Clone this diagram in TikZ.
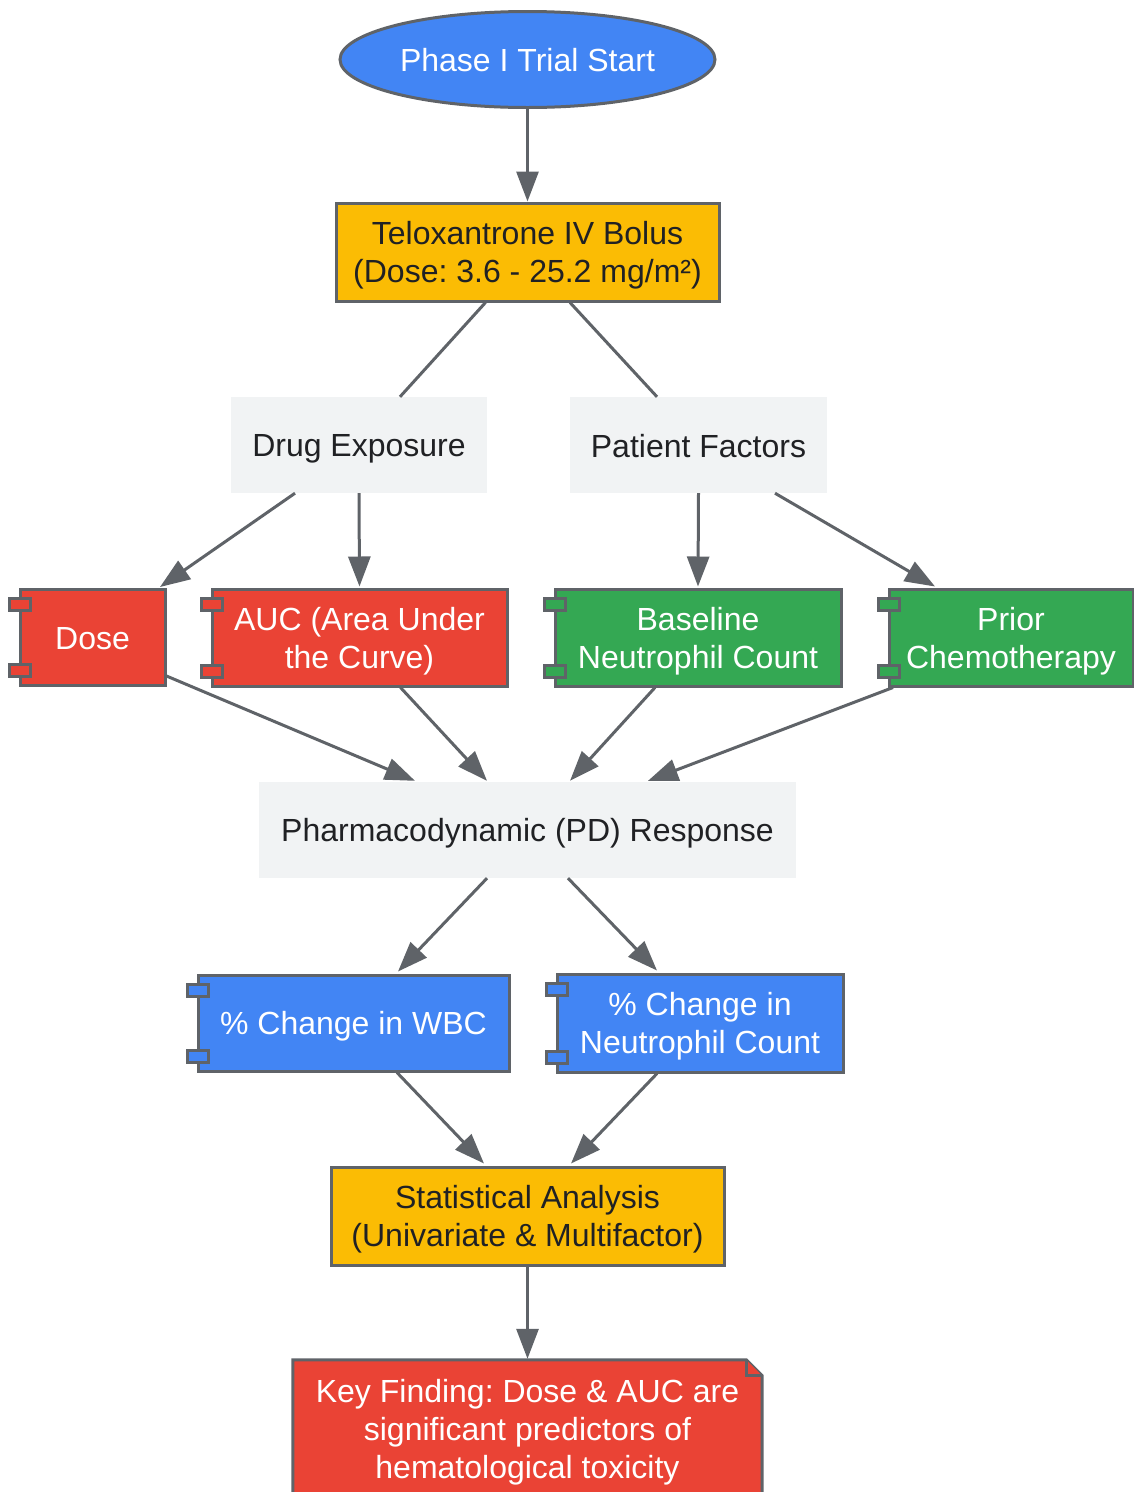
\documentclass[tikz,border=0pt]{standalone}
\usepackage{fontspec}
\setmainfont{Liberation Sans}
\usetikzlibrary{arrows.meta,shapes.geometric}
\definecolor{gblue}{HTML}{4285F4}
\definecolor{gyellow}{HTML}{FBBC04}
\definecolor{gred}{HTML}{EA4335}
\definecolor{ggreen}{HTML}{34A853}
\definecolor{ggrey}{HTML}{F1F3F4}
\definecolor{gborder}{HTML}{5F6368}
\definecolor{gtext}{HTML}{202124}
\frenchspacing
\newcommand{\st}{\rule[-6pt]{0pt}{36pt}}
\tikzset{
  base/.style={inner sep=0pt, align=center, font=\fontsize{32}{38}\selectfont\frenchspacing},
  boxd/.style={base, rectangle, draw=gborder, line width=3pt},
  greybox/.style={base, rectangle, fill=ggrey, text=gtext},
  yellowbox/.style={boxd, fill=gyellow, text=gtext},
  redbox/.style={boxd, fill=gred, text=white},
  greenbox/.style={boxd, fill=ggreen, text=white},
  bluebox/.style={boxd, fill=gblue, text=white},
  tabbox/.style={draw=gborder, line width=3pt},
  conn/.style={draw=gborder, line width=3pt},
  arr/.style={conn, -{Triangle[length=30pt,width=22pt]}},
}
\newcommand{\comptabs}[2]{%
  \draw[tabbox, fill=#2] ([shift={(-9.5,10.5)}]#1.north west) rectangle ++(21,12);
  \draw[tabbox, fill=#2] ([shift={(-9.5,-22.5)}]#1.south west) rectangle ++(21,12);
}
\begin{document}
\begin{tikzpicture}[x=1pt, y=-1pt]
\useasboundingbox (0,0) rectangle (1134,1492);

\node[base, ellipse, draw=gborder, line width=3pt, fill=gblue, text=white,
      minimum width=375pt, minimum height=96pt] (start) at (527.5,59.5) {\st Phase I Trial Start};

\node[yellowbox, minimum width=383pt, minimum height=98pt] (telox) at (527.5,252)
  {\st Teloxantrone IV Bolus\\\st (Dose: 3.6 - 25.2 mg/m²)};

\node[greybox, minimum width=256pt, minimum height=96pt] (drug) at (359,445) {\st Drug Exposure};
\node[greybox, minimum width=257pt, minimum height=96pt] (patient) at (698.5,445) {\st Patient Factors};

\node[redbox, minimum width=145pt, minimum height=96pt] (dose) at (92.5,637.5) {\st Dose};
\node[redbox, minimum width=295pt, minimum height=97pt] (auc) at (359.5,637.5) {\st AUC (Area Under\\\st the Curve)};
\node[greenbox, minimum width=286pt, minimum height=97pt] (basen) at (698,637.5) {\st Baseline\\\st Neutrophil Count};
\node[greenbox, minimum width=244pt, minimum height=97pt] (prior) at (1011,637.5) {\st Prior\\\st Chemotherapy};
\comptabs{dose}{gred}
\comptabs{auc}{gred}
\comptabs{basen}{ggreen}
\comptabs{prior}{ggreen}

\node[greybox, minimum width=537pt, minimum height=96pt] (pd) at (527.5,830) {\st Pharmacodynamic (PD) Response};

\node[bluebox, minimum width=311pt, minimum height=96pt] (wbc) at (353.5,1023) {\st\% Change in WBC};
\node[bluebox, minimum width=286pt, minimum height=98pt] (neut) at (700,1023) {\st\% Change in\\\st Neutrophil Count};
\comptabs{wbc}{gblue}
\comptabs{neut}{gblue}

\node[yellowbox, minimum width=393pt, minimum height=98pt] (stat) at (527.5,1216)
  {\st Statistical Analysis\\\st (Univariate \& Multifactor)};

\node[base, text=white, minimum width=469pt, minimum height=138pt] (key) at (527.5,1429) {};
\draw[draw=gborder, line width=3pt, fill=gred]
  (key.south west) -- (key.north west) -- ([xshift=-16pt]key.north east)
  -- ([yshift=-16pt]key.north east) -- (key.south east) -- cycle;
\draw[draw=gborder, line width=3pt, fill=gred, line join=miter]
  ([xshift=-16pt]key.north east) -- ([xshift=-16pt,yshift=-16pt]key.north east) -- ([yshift=-16pt]key.north east);
\node[base, text=white] at (key.center)
  {\st Key Finding: Dose \& AUC are\\\st significant predictors of\\\st hematological toxicity};

\draw[arr] (start.south) -- (telox.north);
\draw[conn] ([xshift=-42pt]telox.south) -- ([xshift=41pt]drug.north);
\draw[conn] ([xshift=42.5pt]telox.south) -- ([xshift=-41.5pt]patient.north);
\draw[arr] ([xshift=-64pt]drug.south) -- ([xshift=67.5pt,yshift=1pt]dose.north);
\draw[arr] (drug.south) -- ([yshift=1pt]auc.north);
\draw[arr] (patient.south) -- ([yshift=1pt]basen.north);
\draw[arr] ([xshift=76.5pt]patient.south) -- ([xshift=-76pt,yshift=1pt]prior.north);
\draw[arr] ([yshift=-38.5pt]dose.east) -- ([xshift=-112.5pt,yshift=1pt]pd.north);
\draw[arr] ([xshift=41pt]auc.south) -- ([xshift=-40.5pt,yshift=1pt]pd.north);
\draw[arr] ([xshift=-43pt]basen.south) -- ([xshift=42.5pt,yshift=1pt]pd.north);
\draw[arr] ([xshift=-118pt]prior.south) -- ([xshift=120.5pt,yshift=1pt]pd.north);
\draw[arr] ([xshift=-40.5pt]pd.south) -- ([xshift=44.5pt,yshift=2pt]wbc.north);
\draw[arr] ([xshift=40.5pt]pd.south) -- ([xshift=-43pt,yshift=2pt]neut.north);
\draw[arr] ([xshift=43.5pt]wbc.south) -- ([xshift=-43.5pt,yshift=2pt]stat.north);
\draw[arr] ([xshift=-43pt]neut.south) -- ([xshift=43.5pt,yshift=2pt]stat.north);
\draw[arr] (stat.south) -- ([yshift=1pt]key.north);
\end{tikzpicture}
\end{document}
